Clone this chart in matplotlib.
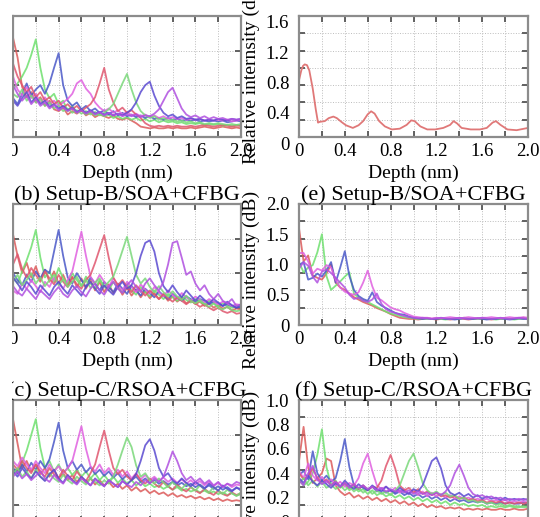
# -*- coding: utf-8 -*-
"""
Reflectogram panels (a)-(f): relative intensity vs depth, cropped view.
"""
import numpy as np
import matplotlib
matplotlib.use("Agg")
import matplotlib.pyplot as plt
from matplotlib.patches import Rectangle
from matplotlib.transforms import ScaledTranslation

plt.rcParams["font.family"] = ["Liberation Serif", "DejaVu Serif"]

W, H = 540, 517  # output size in px

# sampling grid of the traced curves (nm)
depth = np.linspace(0.0, 2.0, 51)

xtick_vals = [0.0, 0.2, 0.4, 0.6, 0.8, 1.0, 1.2, 1.4, 1.6, 1.8, 2.0]
xtick_labels = ["0", "", "0.4", "", "0.8", "", "1.2", "", "1.6", "", "2.0"]

# ---------------- (a) Setup-A ----------------
a_red0 = [1.15, 0.92, 0.58, 0.46, 0.52, 0.40, 0.46, 0.36, 0.42, 0.32, 0.30, 0.34, 0.26, 0.30, 0.27, 0.31, 0.25,
          0.28, 0.23, 0.26, 0.24, 0.22, 0.25, 0.21, 0.20, 0.22, 0.19, 0.16, 0.12, 0.11, 0.10, 0.11, 0.10, 0.10,
          0.11, 0.10, 0.11, 0.10, 0.10, 0.11, 0.10, 0.11, 0.12, 0.11, 0.10, 0.11, 0.12, 0.11, 0.10, 0.11, 0.10]
a_green1 = [0.55, 0.62, 0.70, 0.80, 0.95, 1.13, 0.80, 0.55, 0.45, 0.50, 0.38, 0.42, 0.30, 0.36, 0.28, 0.32, 0.26,
            0.30, 0.25, 0.27, 0.24, 0.26, 0.22, 0.24, 0.21, 0.23, 0.20, 0.22, 0.19, 0.21, 0.18, 0.20, 0.17, 0.19,
            0.17, 0.18, 0.16, 0.17, 0.15, 0.16, 0.15, 0.16, 0.14, 0.15, 0.14, 0.15, 0.13, 0.14, 0.13, 0.14, 0.13]
a_blue2 = [0.45, 0.38, 0.50, 0.62, 0.48, 0.55, 0.60, 0.50, 0.62, 0.80, 0.97, 0.60, 0.42, 0.36, 0.40, 0.32, 0.36,
           0.30, 0.33, 0.28, 0.31, 0.26, 0.30, 0.25, 0.28, 0.24, 0.26, 0.23, 0.25, 0.22, 0.24, 0.21, 0.22, 0.20,
           0.22, 0.20, 0.21, 0.19, 0.20, 0.19, 0.20, 0.18, 0.19, 0.18, 0.19, 0.18, 0.19, 0.17, 0.18, 0.19, 0.18]
a_mag3 = [0.70, 0.55, 0.48, 0.58, 0.45, 0.50, 0.40, 0.46, 0.38, 0.42, 0.36, 0.40, 0.44, 0.50, 0.62, 0.66, 0.56,
          0.50, 0.40, 0.34, 0.30, 0.33, 0.28, 0.31, 0.26, 0.29, 0.25, 0.27, 0.24, 0.26, 0.23, 0.25, 0.22, 0.24,
          0.21, 0.23, 0.21, 0.22, 0.20, 0.21, 0.20, 0.21, 0.19, 0.20, 0.19, 0.20, 0.19, 0.20, 0.18, 0.19, 0.20]
a_red4 = [0.85, 0.70, 0.60, 0.52, 0.58, 0.46, 0.52, 0.42, 0.46, 0.38, 0.42, 0.34, 0.38, 0.32, 0.36, 0.30, 0.34,
          0.38, 0.46, 0.62, 0.80, 0.55, 0.40, 0.30, 0.34, 0.28, 0.31, 0.26, 0.22, 0.16, 0.13, 0.12, 0.13, 0.12,
          0.13, 0.12, 0.13, 0.12, 0.12, 0.13, 0.12, 0.13, 0.14, 0.13, 0.12, 0.13, 0.14, 0.13, 0.12, 0.13, 0.13]
a_green5 = [0.50, 0.46, 0.55, 0.42, 0.48, 0.40, 0.44, 0.36, 0.40, 0.33, 0.36, 0.30, 0.33, 0.28, 0.31, 0.27, 0.30,
            0.26, 0.29, 0.25, 0.28, 0.32, 0.38, 0.50, 0.62, 0.73, 0.55, 0.40, 0.30, 0.25, 0.22, 0.24, 0.20, 0.22,
            0.19, 0.20, 0.18, 0.19, 0.17, 0.18, 0.16, 0.17, 0.15, 0.16, 0.15, 0.16, 0.15, 0.14, 0.15, 0.14, 0.15]
a_blue6 = [0.42, 0.36, 0.45, 0.52, 0.40, 0.46, 0.38, 0.42, 0.35, 0.38, 0.33, 0.36, 0.31, 0.34, 0.29, 0.32, 0.28,
           0.31, 0.27, 0.29, 0.26, 0.28, 0.25, 0.27, 0.25, 0.28, 0.32, 0.40, 0.52, 0.60, 0.64, 0.48, 0.36, 0.28,
           0.24, 0.26, 0.22, 0.24, 0.21, 0.22, 0.20, 0.21, 0.19, 0.20, 0.19, 0.21, 0.20, 0.19, 0.21, 0.20, 0.21]
a_mag7 = [0.60, 0.50, 0.42, 0.48, 0.38, 0.44, 0.36, 0.40, 0.33, 0.37, 0.31, 0.34, 0.30, 0.33, 0.28, 0.31, 0.27,
          0.30, 0.26, 0.29, 0.25, 0.28, 0.25, 0.27, 0.24, 0.26, 0.24, 0.26, 0.23, 0.25, 0.24, 0.27, 0.32, 0.42,
          0.52, 0.57, 0.45, 0.33, 0.26, 0.23, 0.25, 0.22, 0.24, 0.21, 0.23, 0.21, 0.22, 0.20, 0.21, 0.20, 0.21]

# ---------------- (b) Setup-B/SOA+CFBG ----------------
b_red0 = [1.05, 0.80, 0.60, 0.72, 0.55, 0.68, 0.52, 0.64, 0.50, 0.62, 0.48, 0.58, 0.46, 0.56, 0.44, 0.54, 0.42,
          0.52, 0.40, 0.50, 0.38, 0.47, 0.37, 0.45, 0.35, 0.43, 0.34, 0.41, 0.32, 0.39, 0.31, 0.37, 0.30, 0.35,
          0.28, 0.33, 0.27, 0.31, 0.25, 0.29, 0.24, 0.27, 0.22, 0.25, 0.20, 0.23, 0.19, 0.21, 0.17, 0.19, 0.18]
b_green1 = [0.55, 0.48, 0.62, 0.75, 0.90, 1.10, 0.78, 0.55, 0.62, 0.50, 0.66, 0.54, 0.48, 0.60, 0.52, 0.45, 0.56,
            0.48, 0.42, 0.52, 0.45, 0.40, 0.50, 0.43, 0.38, 0.47, 0.40, 0.35, 0.44, 0.38, 0.33, 0.40, 0.35, 0.30,
            0.36, 0.32, 0.28, 0.33, 0.29, 0.26, 0.30, 0.27, 0.24, 0.28, 0.25, 0.22, 0.25, 0.23, 0.20, 0.22, 0.21]
b_blue2 = [0.60, 0.52, 0.46, 0.58, 0.50, 0.62, 0.54, 0.64, 0.60, 0.85, 1.10, 0.80, 0.55, 0.48, 0.60, 0.52, 0.44,
           0.55, 0.48, 0.40, 0.50, 0.44, 0.38, 0.48, 0.42, 0.36, 0.45, 0.40, 0.34, 0.42, 0.37, 0.32, 0.39, 0.34,
           0.30, 0.36, 0.32, 0.28, 0.33, 0.30, 0.26, 0.30, 0.28, 0.24, 0.27, 0.25, 0.22, 0.24, 0.22, 0.20, 0.21]
b_mag3 = [0.40, 0.36, 0.48, 0.42, 0.52, 0.45, 0.38, 0.50, 0.44, 0.55, 0.48, 0.42, 0.52, 0.62, 0.85, 1.08, 0.80,
          0.56, 0.48, 0.58, 0.50, 0.44, 0.54, 0.46, 0.40, 0.50, 0.44, 0.38, 0.47, 0.41, 0.36, 0.44, 0.38, 0.33,
          0.40, 0.35, 0.30, 0.37, 0.32, 0.28, 0.33, 0.29, 0.26, 0.30, 0.27, 0.24, 0.27, 0.25, 0.22, 0.24, 0.23]
b_red4 = [0.70, 0.82, 0.65, 0.55, 0.66, 0.58, 0.50, 0.62, 0.54, 0.47, 0.58, 0.50, 0.44, 0.55, 0.47, 0.42, 0.52,
          0.58, 0.72, 0.88, 1.04, 0.78, 0.55, 0.46, 0.52, 0.44, 0.38, 0.46, 0.40, 0.34, 0.40, 0.35, 0.30, 0.36,
          0.31, 0.27, 0.32, 0.28, 0.24, 0.28, 0.25, 0.21, 0.24, 0.20, 0.17, 0.20, 0.16, 0.14, 0.16, 0.13, 0.14]
b_green5 = [0.50, 0.58, 0.46, 0.52, 0.60, 0.48, 0.55, 0.45, 0.52, 0.58, 0.46, 0.53, 0.44, 0.50, 0.56, 0.45, 0.52,
            0.43, 0.49, 0.54, 0.44, 0.50, 0.56, 0.70, 0.86, 1.02, 0.80, 0.58, 0.48, 0.54, 0.44, 0.38, 0.45, 0.38,
            0.33, 0.39, 0.33, 0.29, 0.34, 0.28, 0.25, 0.29, 0.24, 0.21, 0.25, 0.20, 0.18, 0.21, 0.17, 0.16, 0.17]
b_blue6 = [0.55, 0.48, 0.40, 0.50, 0.44, 0.36, 0.46, 0.40, 0.34, 0.44, 0.50, 0.42, 0.36, 0.46, 0.40, 0.34, 0.44,
           0.50, 0.42, 0.36, 0.46, 0.40, 0.35, 0.44, 0.50, 0.42, 0.46, 0.60, 0.80, 0.95, 0.98, 0.85, 0.60, 0.45,
           0.38, 0.46, 0.38, 0.32, 0.40, 0.34, 0.28, 0.34, 0.29, 0.25, 0.30, 0.26, 0.22, 0.27, 0.23, 0.20, 0.24]
b_mag7 = [0.45, 0.38, 0.34, 0.42, 0.36, 0.30, 0.40, 0.35, 0.30, 0.38, 0.44, 0.36, 0.32, 0.40, 0.45, 0.38, 0.33,
          0.42, 0.48, 0.40, 0.35, 0.44, 0.50, 0.42, 0.37, 0.46, 0.52, 0.44, 0.38, 0.48, 0.54, 0.46, 0.40, 0.50,
          0.70, 0.95, 0.97, 0.78, 0.58, 0.62, 0.48, 0.40, 0.46, 0.36, 0.30, 0.36, 0.28, 0.25, 0.30, 0.22, 0.24]

# ---------------- (c) Setup-C/RSOA+CFBG ----------------
c_red0 = [1.18, 0.90, 0.62, 0.70, 0.58, 0.66, 0.55, 0.62, 0.52, 0.60, 0.50, 0.56, 0.48, 0.54, 0.46, 0.52, 0.45,
          0.50, 0.43, 0.48, 0.42, 0.46, 0.40, 0.44, 0.38, 0.42, 0.36, 0.40, 0.35, 0.38, 0.33, 0.36, 0.32, 0.34,
          0.30, 0.33, 0.29, 0.31, 0.28, 0.30, 0.27, 0.29, 0.26, 0.28, 0.25, 0.27, 0.24, 0.26, 0.24, 0.25, 0.24]
c_green1 = [0.60, 0.55, 0.68, 0.82, 1.00, 1.18, 0.85, 0.62, 0.70, 0.58, 0.66, 0.56, 0.62, 0.54, 0.60, 0.52, 0.58,
            0.50, 0.56, 0.48, 0.54, 0.47, 0.52, 0.45, 0.50, 0.44, 0.48, 0.42, 0.46, 0.41, 0.44, 0.40, 0.42, 0.38,
            0.41, 0.37, 0.40, 0.36, 0.38, 0.35, 0.37, 0.34, 0.36, 0.33, 0.35, 0.32, 0.34, 0.31, 0.33, 0.30, 0.32]
c_blue2 = [0.62, 0.56, 0.66, 0.58, 0.68, 0.60, 0.70, 0.62, 0.72, 0.92, 1.14, 0.82, 0.62, 0.70, 0.60, 0.66, 0.57,
           0.63, 0.55, 0.60, 0.53, 0.58, 0.51, 0.56, 0.49, 0.54, 0.48, 0.52, 0.46, 0.50, 0.45, 0.48, 0.44, 0.47,
           0.43, 0.46, 0.42, 0.45, 0.41, 0.44, 0.40, 0.43, 0.39, 0.42, 0.38, 0.41, 0.37, 0.40, 0.36, 0.39, 0.38]
c_mag3 = [0.70, 0.64, 0.74, 0.66, 0.60, 0.70, 0.62, 0.56, 0.66, 0.58, 0.64, 0.56, 0.62, 0.70, 0.90, 1.10, 0.84,
          0.64, 0.58, 0.66, 0.56, 0.62, 0.54, 0.60, 0.52, 0.58, 0.50, 0.56, 0.49, 0.54, 0.48, 0.52, 0.47, 0.51,
          0.46, 0.50, 0.45, 0.49, 0.44, 0.48, 0.43, 0.47, 0.42, 0.46, 0.41, 0.45, 0.40, 0.44, 0.40, 0.43, 0.42]
c_red4 = [0.66, 0.60, 0.70, 0.62, 0.56, 0.66, 0.58, 0.52, 0.62, 0.55, 0.50, 0.60, 0.53, 0.48, 0.58, 0.51, 0.47,
          0.56, 0.66, 0.86, 1.05, 0.82, 0.62, 0.55, 0.60, 0.52, 0.48, 0.55, 0.48, 0.44, 0.50, 0.44, 0.40, 0.46,
          0.41, 0.37, 0.43, 0.38, 0.35, 0.40, 0.36, 0.33, 0.38, 0.34, 0.31, 0.36, 0.32, 0.30, 0.34, 0.31, 0.33]
c_green5 = [0.55, 0.62, 0.52, 0.58, 0.50, 0.60, 0.52, 0.48, 0.56, 0.50, 0.46, 0.54, 0.48, 0.44, 0.52, 0.47, 0.43,
            0.50, 0.46, 0.42, 0.48, 0.44, 0.52, 0.66, 0.82, 0.97, 0.86, 0.65, 0.52, 0.56, 0.48, 0.44, 0.50, 0.45,
            0.40, 0.46, 0.41, 0.38, 0.44, 0.40, 0.36, 0.42, 0.37, 0.34, 0.40, 0.36, 0.32, 0.37, 0.33, 0.30, 0.34]
c_blue6 = [0.58, 0.52, 0.62, 0.55, 0.50, 0.58, 0.52, 0.47, 0.55, 0.60, 0.50, 0.45, 0.54, 0.48, 0.44, 0.52, 0.47,
           0.42, 0.50, 0.45, 0.41, 0.48, 0.44, 0.40, 0.47, 0.43, 0.48, 0.55, 0.70, 0.88, 0.95, 0.82, 0.62, 0.52,
           0.56, 0.48, 0.44, 0.50, 0.45, 0.41, 0.46, 0.42, 0.38, 0.44, 0.40, 0.36, 0.42, 0.38, 0.35, 0.40, 0.36]
c_mag7 = [0.52, 0.58, 0.50, 0.55, 0.48, 0.53, 0.58, 0.50, 0.46, 0.54, 0.48, 0.44, 0.52, 0.47, 0.43, 0.50, 0.46,
          0.42, 0.49, 0.45, 0.41, 0.48, 0.44, 0.40, 0.47, 0.43, 0.40, 0.46, 0.42, 0.48, 0.44, 0.50, 0.46, 0.52,
          0.66, 0.81, 0.70, 0.56, 0.48, 0.52, 0.46, 0.50, 0.44, 0.48, 0.42, 0.46, 0.40, 0.44, 0.42, 0.46, 0.44]

# ---------------- (d) single trace ----------------
d_depth = [0.0, 0.02, 0.035, 0.05, 0.07, 0.09, 0.12, 0.146, 0.166, 0.18, 0.225, 0.26, 0.30, 0.33, 0.37, 0.41,
           0.47, 0.52, 0.56, 0.60, 0.63, 0.66, 0.70, 0.75, 0.81, 0.88, 0.94, 0.98, 1.01, 1.06, 1.12, 1.19, 1.26,
           1.32, 1.35, 1.38, 1.42, 1.50, 1.58, 1.64, 1.69, 1.72, 1.76, 1.82, 1.90, 2.0]
d_red = [0.75, 0.88, 0.94, 0.96, 0.95, 0.88, 0.64, 0.37, 0.19, 0.20, 0.21, 0.25, 0.27, 0.25, 0.20, 0.155,
         0.12, 0.155, 0.21, 0.30, 0.34, 0.31, 0.21, 0.14, 0.10, 0.11, 0.16, 0.22, 0.21, 0.14, 0.10, 0.10, 0.12,
         0.16, 0.21, 0.18, 0.12, 0.10, 0.10, 0.12, 0.19, 0.21, 0.16, 0.10, 0.09, 0.12]

# ---------------- (e) Setup-B/SOA+CFBG ----------------
e_red = [1.60, 1.05, 1.15, 0.82, 0.78, 0.75, 0.85, 1.00, 0.70, 0.62, 0.58, 0.52, 0.46, 0.42, 0.38, 0.35, 0.32,
         0.28, 0.25, 0.22, 0.18, 0.15, 0.12, 0.11, 0.10, 0.10, 0.09, 0.10, 0.11, 0.10, 0.09, 0.10, 0.10, 0.09,
         0.10, 0.11, 0.10, 0.09, 0.10, 0.11, 0.10, 0.10, 0.09, 0.10, 0.10, 0.11, 0.10, 0.10, 0.11, 0.12, 0.10]
e_green = [1.04, 0.87, 0.95, 0.99, 1.20, 1.50, 0.81, 0.58, 0.65, 0.72, 0.80, 0.87, 0.52, 0.45, 0.41, 0.38, 0.34,
           0.30, 0.26, 0.22, 0.19, 0.17, 0.15, 0.13, 0.12, 0.11, 0.10, 0.11, 0.10, 0.10, 0.11, 0.10, 0.09, 0.10,
           0.11, 0.10, 0.12, 0.11, 0.10, 0.10, 0.11, 0.10, 0.10, 0.09, 0.10, 0.11, 0.10, 0.09, 0.10, 0.10, 0.11]
e_blue = [0.99, 1.04, 0.75, 0.78, 0.85, 0.80, 0.90, 1.04, 0.70, 0.95, 1.22, 0.81, 0.58, 0.48, 0.43, 0.40, 0.54,
          0.38, 0.32, 0.28, 0.24, 0.20, 0.18, 0.17, 0.14, 0.12, 0.11, 0.10, 0.11, 0.10, 0.10, 0.11, 0.10, 0.10,
          0.09, 0.10, 0.11, 0.10, 0.10, 0.11, 0.10, 0.09, 0.10, 0.10, 0.11, 0.10, 0.09, 0.10, 0.11, 0.10, 0.10]
e_mag = [1.19, 1.19, 1.05, 0.85, 0.93, 0.90, 0.99, 0.95, 0.75, 0.62, 0.55, 0.52, 0.50, 0.54, 0.70, 0.90, 0.64,
         0.45, 0.41, 0.35, 0.29, 0.26, 0.24, 0.20, 0.17, 0.14, 0.13, 0.12, 0.12, 0.11, 0.12, 0.11, 0.12, 0.13,
         0.12, 0.11, 0.12, 0.13, 0.12, 0.11, 0.12, 0.12, 0.13, 0.12, 0.11, 0.12, 0.13, 0.12, 0.12, 0.13, 0.12]
e_purple = [0.93, 1.04, 0.98, 0.80, 0.70, 0.88, 0.92, 0.86, 0.78, 0.70, 0.62, 0.50, 0.43, 0.45, 0.40, 0.38, 0.42,
            0.52, 0.35, 0.26, 0.22, 0.20, 0.17, 0.15, 0.13, 0.12, 0.11, 0.12, 0.11, 0.10, 0.11, 0.12, 0.11, 0.10,
            0.11, 0.12, 0.11, 0.10, 0.11, 0.11, 0.12, 0.11, 0.10, 0.11, 0.12, 0.11, 0.10, 0.11, 0.12, 0.11, 0.10]

# ---------------- (f) Setup-C/RSOA+CFBG ----------------
f_red0 = [0.50, 0.78, 0.45, 0.32, 0.36, 0.40, 0.52, 0.50, 0.30, 0.25, 0.22, 0.24, 0.20, 0.22, 0.19, 0.21, 0.18,
          0.20, 0.17, 0.19, 0.16, 0.18, 0.15, 0.17, 0.14, 0.16, 0.13, 0.15, 0.12, 0.14, 0.12, 0.13, 0.11, 0.12,
          0.11, 0.12, 0.10, 0.11, 0.10, 0.11, 0.10, 0.11, 0.10, 0.10, 0.11, 0.10, 0.10, 0.11, 0.10, 0.10, 0.11]
f_green1 = [0.35, 0.30, 0.33, 0.40, 0.55, 0.76, 0.45, 0.30, 0.34, 0.28, 0.31, 0.26, 0.29, 0.25, 0.27, 0.23, 0.26,
            0.22, 0.24, 0.21, 0.23, 0.20, 0.22, 0.19, 0.21, 0.18, 0.20, 0.17, 0.19, 0.16, 0.18, 0.15, 0.17, 0.14,
            0.16, 0.14, 0.15, 0.13, 0.14, 0.13, 0.14, 0.12, 0.13, 0.12, 0.13, 0.12, 0.13, 0.12, 0.12, 0.13, 0.12]
f_blue2 = [0.38, 0.42, 0.35, 0.58, 0.40, 0.34, 0.38, 0.33, 0.36, 0.50, 0.68, 0.45, 0.30, 0.27, 0.30, 0.26, 0.29,
           0.25, 0.27, 0.24, 0.26, 0.23, 0.25, 0.22, 0.24, 0.21, 0.23, 0.20, 0.22, 0.19, 0.21, 0.18, 0.20, 0.17,
           0.19, 0.17, 0.18, 0.16, 0.17, 0.16, 0.17, 0.15, 0.16, 0.15, 0.16, 0.15, 0.16, 0.15, 0.15, 0.16, 0.15]
f_mag3 = [0.42, 0.36, 0.48, 0.38, 0.34, 0.37, 0.32, 0.35, 0.30, 0.33, 0.29, 0.32, 0.30, 0.36, 0.48, 0.56, 0.42,
          0.30, 0.27, 0.29, 0.25, 0.28, 0.24, 0.27, 0.23, 0.26, 0.22, 0.25, 0.21, 0.24, 0.21, 0.23, 0.20, 0.22,
          0.19, 0.21, 0.19, 0.20, 0.18, 0.19, 0.18, 0.19, 0.17, 0.18, 0.17, 0.18, 0.16, 0.17, 0.16, 0.17, 0.16]
f_red4 = [0.40, 0.35, 0.38, 0.44, 0.36, 0.32, 0.35, 0.30, 0.33, 0.29, 0.32, 0.28, 0.31, 0.27, 0.30, 0.26, 0.29,
          0.28, 0.34, 0.46, 0.55, 0.44, 0.30, 0.26, 0.28, 0.24, 0.27, 0.23, 0.25, 0.22, 0.24, 0.21, 0.22, 0.20,
          0.21, 0.19, 0.20, 0.18, 0.19, 0.17, 0.18, 0.16, 0.17, 0.16, 0.17, 0.15, 0.16, 0.15, 0.16, 0.15, 0.16]
f_green5 = [0.32, 0.36, 0.30, 0.34, 0.29, 0.33, 0.28, 0.31, 0.27, 0.30, 0.26, 0.29, 0.25, 0.28, 0.24, 0.27, 0.23,
            0.26, 0.23, 0.25, 0.22, 0.26, 0.30, 0.40, 0.50, 0.56, 0.45, 0.32, 0.26, 0.23, 0.25, 0.22, 0.24, 0.21,
            0.22, 0.19, 0.20, 0.17, 0.18, 0.16, 0.17, 0.15, 0.16, 0.14, 0.15, 0.13, 0.14, 0.13, 0.13, 0.12, 0.13]
f_blue6 = [0.36, 0.32, 0.38, 0.33, 0.30, 0.34, 0.31, 0.28, 0.32, 0.29, 0.34, 0.30, 0.27, 0.31, 0.28, 0.26, 0.30,
           0.27, 0.25, 0.29, 0.26, 0.24, 0.28, 0.25, 0.23, 0.27, 0.25, 0.30, 0.40, 0.50, 0.53, 0.44, 0.30, 0.24,
           0.22, 0.24, 0.21, 0.23, 0.20, 0.22, 0.19, 0.21, 0.19, 0.20, 0.18, 0.20, 0.18, 0.19, 0.18, 0.19, 0.18]
f_mag7 = [0.34, 0.30, 0.40, 0.46, 0.35, 0.31, 0.34, 0.30, 0.33, 0.29, 0.32, 0.28, 0.31, 0.28, 0.30, 0.27, 0.29,
          0.26, 0.28, 0.25, 0.27, 0.25, 0.26, 0.24, 0.26, 0.23, 0.25, 0.23, 0.24, 0.22, 0.24, 0.22, 0.25, 0.30,
          0.40, 0.47, 0.38, 0.28, 0.23, 0.21, 0.22, 0.20, 0.21, 0.19, 0.20, 0.18, 0.19, 0.18, 0.19, 0.18, 0.19]

# curve colours (faded MATLAB-like)
RED, GREEN, BLUE, MAG = "#dc5a5a", "#6ee06e", "#4a58c8", "#e060e0"
RED2, GREEN2, BLUE2, PURPLE = "#e0566e", "#7ad87a", "#5a4ad0", "#b050e0"
PAL8 = [RED, GREEN, BLUE, MAG, RED2, GREEN2, BLUE2, PURPLE]

# panel layout in px: (left, right) and (top, bottom)
LEFT_X = (13, 241)
RIGHT_X = (299, 528)
ROWS_Y = [(16, 137), (204, 325), (400, 522)]

FRAME = "#8c8c8c"
TICKC = "#555555"


def px_axes(fig, xr, yr):
    l, r = xr
    t, b = yr
    return fig.add_axes([l / W, 1 - b / H, (r - l) / W, (b - t) / H])


def style(ax, ylim, ylabels, ylabel_text=None):
    ax.set_xlim(0, 2.0)
    ax.set_ylim(*ylim)
    # x: ticks + grid every 0.2, labels every 0.4
    ax.set_xticks(xtick_vals)
    ax.set_xticklabels(xtick_labels, fontsize=13.5)
    # y: labels spread over the axis, grid in 7 equal steps
    ax.set_yticks([float(v) for v in ylabels])
    ax.set_yticklabels(ylabels, fontsize=13.5)
    ax.set_yticks(np.linspace(ylim[0], ylim[1], 8), minor=True)
    ax.tick_params(axis="y", which="major", length=0, pad=7)
    ax.tick_params(axis="y", which="minor", direction="in", length=4, width=1.3,
                   color=TICKC, left=True, right=True)
    ax.tick_params(axis="x", which="major", direction="in", length=4, width=1.3,
                   color=TICKC, top=True, bottom=True, pad=4)
    ax.grid(True, axis="x", which="major", ls=":", lw=0.7, color="#bdbdbd")
    ax.grid(True, axis="y", which="minor", ls=":", lw=0.7, color="#bdbdbd")
    for s in ax.spines.values():
        s.set_color(FRAME)
        s.set_linewidth(1.6)
    ax.set_xlabel("Depth (nm)", fontsize=14)
    if ylabel_text:
        ax.set_ylabel(ylabel_text, fontsize=14)


def draw(ax, curves, colors):
    for y, c in zip(curves, colors):
        ax.plot(depth, y, "-", color=c, lw=1.3, alpha=0.85)


fig = plt.figure(figsize=(W / 100, H / 100), dpi=100)

left_ylabels = ["0", "0.4", "0.8", "1.2"]

# (a)
ax = px_axes(fig, LEFT_X, ROWS_Y[0])
draw(ax, [a_red0, a_green1, a_blue2, a_mag3, a_red4, a_green5, a_blue6, a_mag7], PAL8)
style(ax, (0, 1.4), left_ylabels, "Relative intensity (dB)")

# (b)
ax = px_axes(fig, LEFT_X, ROWS_Y[1])
draw(ax, [b_red0, b_green1, b_blue2, b_mag3, b_red4, b_green5, b_blue6, b_mag7], PAL8)
style(ax, (0, 1.4), left_ylabels, "Relative intensity (dB)")
ax.set_title("(b) Setup-B/SOA+CFBG", fontsize=16, pad=3)

# (c)
ax = px_axes(fig, LEFT_X, ROWS_Y[2])
draw(ax, [c_red0, c_green1, c_blue2, c_mag3, c_red4, c_green5, c_blue6, c_mag7], PAL8)
style(ax, (0, 1.4), left_ylabels, "Relative intensity (dB)")
ax.set_title("(c) Setup-C/RSOA+CFBG", fontsize=16, pad=3)

# (d)
ax = px_axes(fig, RIGHT_X, ROWS_Y[0])
ax.plot(d_depth, d_red, "-", color="#e07878", lw=1.3)
style(ax, (0, 1.6), ["0", "0.4", "0.8", "1.2", "1.6"], "Relative internsity (dB)")
ax.yaxis.set_label_coords(260 / W, 1 - 72 / H, transform=fig.transFigure)
# in the source the y labels of this panel sit a few px low
shift = ScaledTranslation(0, -6 / 100, fig.dpi_scale_trans)
for t in ax.yaxis.get_major_ticks():
    t.label1.set_transform(t.label1.get_transform() + shift)

# (e)
ax = px_axes(fig, RIGHT_X, ROWS_Y[1])
draw(ax, [e_red, e_green, e_blue, e_mag, e_purple], [RED, GREEN, BLUE, MAG, PURPLE])
style(ax, (0, 2.0), ["0", "0.5", "1.0", "1.5", "2.0"], "Relative intensity (dB)")
ax.yaxis.set_label_coords(260 / W, 1 - 280 / H, transform=fig.transFigure)
ax.set_title("(e) Setup-B/SOA+CFBG", fontsize=16, pad=3)

# (f)
ax = px_axes(fig, RIGHT_X, ROWS_Y[2])
draw(ax, [f_red0, f_green1, f_blue2, f_mag3, f_red4, f_green5, f_blue6, f_mag7], PAL8)
style(ax, (0, 1.0), ["0", "0.2", "0.4", "0.6", "0.8", "1.0"], "Relative intensity (dB)")
ax.yaxis.set_label_coords(260 / W, 1 - 480 / H, transform=fig.transFigure)
ax.set_title("(f) Setup-C/RSOA+CFBG", fontsize=16, pad=3)

# the source picture is cropped: blank strip along the left edge
fig.add_artist(Rectangle((0, 0), 11.5 / W, 1, transform=fig.transFigure,
                         facecolor="white", edgecolor="none", zorder=100))

fig.savefig("out.png", dpi=100)
